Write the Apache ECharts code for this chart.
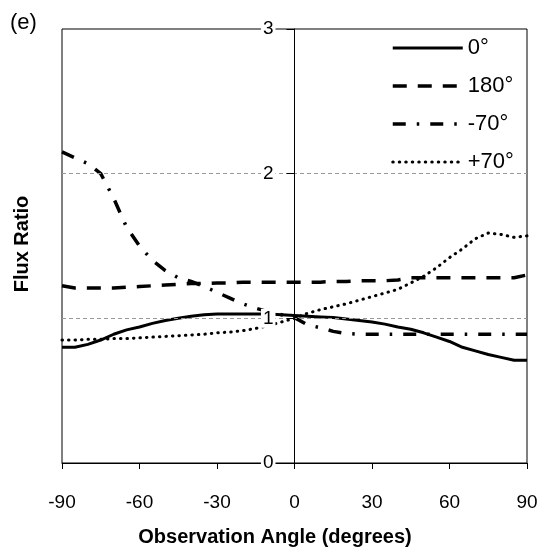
<!DOCTYPE html>
<html>
<head>
<meta charset="utf-8">
<script src="https://cdn.jsdelivr.net/npm/echarts@6/dist/echarts.min.js"></script>
<style>html,body{margin:0;padding:0;background:#fff}#c{width:541px;height:550px}</style>
</head>
<body>
<div id="c"></div>
<script>
// Data
const angles = [-90,-85,-80,-75,-70,-65,-60,-55,-50,-45,-40,-35,-30,-25,-20,-15,-10,-5,0,5,10,15,20,25,30,35,40,45,50,55,60,65,70,75,80,85,90];
const seriesNames = ['0°', '180°', '-70°', '+70°'];
const flux0 = [0.80,0.80,0.82,0.85,0.89,0.92,0.94,0.965,0.985,1.00,1.015,1.025,1.03,1.03,1.03,1.03,1.03,1.025,1.02,1.015,1.01,1.005,0.995,0.985,0.975,0.96,0.94,0.925,0.90,0.87,0.84,0.80,0.775,0.75,0.73,0.71,0.71];
const flux180 = [1.225,1.21,1.21,1.21,1.21,1.215,1.22,1.225,1.23,1.235,1.24,1.24,1.245,1.245,1.25,1.25,1.25,1.25,1.25,1.25,1.25,1.255,1.255,1.26,1.26,1.26,1.265,1.28,1.28,1.28,1.28,1.28,1.28,1.28,1.28,1.28,1.30];
const fluxM70 = [2.15,2.11,2.07,2.00,1.83,1.63,1.50,1.40,1.33,1.28,1.255,1.22,1.18,1.14,1.10,1.07,1.045,1.025,1.005,0.955,0.935,0.91,0.895,0.89,0.89,0.89,0.89,0.89,0.89,0.89,0.89,0.89,0.89,0.89,0.89,0.89,0.89];
const fluxP70 = [0.85,0.85,0.855,0.855,0.86,0.86,0.865,0.87,0.875,0.88,0.885,0.89,0.90,0.905,0.915,0.93,0.95,0.975,1.0,1.035,1.06,1.08,1.10,1.125,1.15,1.175,1.20,1.245,1.29,1.35,1.42,1.48,1.55,1.59,1.58,1.56,1.57];
const xTicks = [-90,-60,-30,0,30,60,90];
const yTicks = [0,1,2,3];

const FONT = "'Liberation Sans', Arial, sans-serif";
const pair = v => angles.map((a,i)=>[a,v[i]]);
const allValues = [flux0, flux180, fluxM70, fluxP70];
const styles = [
  {type:'solid', width:3, cap:'butt'},
  {type:[14,11], width:3.5, cap:'butt'},
  {type:[13,11,2.5,11], width:3.5, cap:'butt'},
  {type:[0.5,6], width:3, cap:'round'}
];

const GRID_LEFT = 62, GRID_RIGHT = 14, W = 541;
// shift the y axis to sit on x = 0 (centre of the symmetric x range)
const plotW = W - GRID_LEFT - GRID_RIGHT;
const yShift = -plotW * (0 - xTicks[0]) / (xTicks[xTicks.length-1] - xTicks[0]);

const chart = echarts.init(document.getElementById('c'), null, {renderer:'canvas'});
chart.setOption({
  animation:false,
  backgroundColor:'#fff',
  grid:{left:GRID_LEFT, right:GRID_RIGHT, top:29, bottom:87, show:true, borderColor:'#000', borderWidth:1, containLabel:false},
  legend:{
    orient:'vertical', left:391, top:37, itemWidth:70, itemHeight:20, itemGap:16, padding:0,
    itemStyle:{color:'transparent', borderWidth:0, opacity:0},
    textStyle:{fontFamily:FONT, fontSize:22, color:'#000'},
    data:seriesNames.map((n,i)=>({name:n, lineStyle:{color:'#000', width:styles[i].width, type:styles[i].type, cap:styles[i].cap}}))
  },
  xAxis:{
    type:'value', min:xTicks[0], max:xTicks[xTicks.length-1], interval:30,
    axisLine:{onZero:false, lineStyle:{color:'#000', width:1}},
    axisTick:{show:true, length:6, inside:false, lineStyle:{color:'#000'}},
    axisLabel:{fontFamily:FONT, fontSize:19, color:'#000', margin:30},
    splitLine:{show:false}
  },
  yAxis:[{
    type:'value', min:yTicks[0], max:yTicks[yTicks.length-1], interval:1, offset:yShift, z:5,
    axisLine:{onZero:false, lineStyle:{color:'#000', width:1}},
    axisTick:{show:true, length:7, lineStyle:{color:'#000'}},
    axisLabel:{fontFamily:FONT, fontSize:19, color:'#000', margin:19, backgroundColor:'#fff', padding:[0,2,0,2]},
    splitLine:{show:true, lineStyle:{color:['transparent','#999','#999','transparent'], type:[4,3], width:1}}
  },{
    type:'value', min:yTicks[0], max:yTicks[yTicks.length-1], interval:1, offset:yShift, z:5,
    axisLine:{onZero:false, show:false},
    axisTick:{show:true, inside:true, length:8, lineStyle:{color:'#000'}},
    axisLabel:{show:false},
    splitLine:{show:false}
  }],
  graphic:[
    {type:'text', x:10, y:12, style:{text:'(e)', fontSize:22, fontFamily:FONT, fill:'#000', textVerticalAlign:'top'}},
    {type:'text', x:275, y:537, style:{text:'Observation Angle (degrees)', fontSize:20, fontWeight:'bold', fontFamily:FONT, fill:'#000', textAlign:'center', textVerticalAlign:'middle'}},
    {type:'text', x:22, y:244, rotation:Math.PI/2, style:{text:'Flux Ratio', fontSize:20, fontWeight:'bold', fontFamily:FONT, fill:'#000', textAlign:'center', textVerticalAlign:'middle'}}
  ],
  series: seriesNames.map((n,i)=>({
    name:n, type:'line', data:pair(allValues[i]), showSymbol:false, symbol:'none',
    lineStyle:{color:'#000', width:styles[i].width, type:styles[i].type, cap:styles[i].cap},
    itemStyle:{color:'#000'}, z:3
  }))
});
</script>
</body>
</html>
